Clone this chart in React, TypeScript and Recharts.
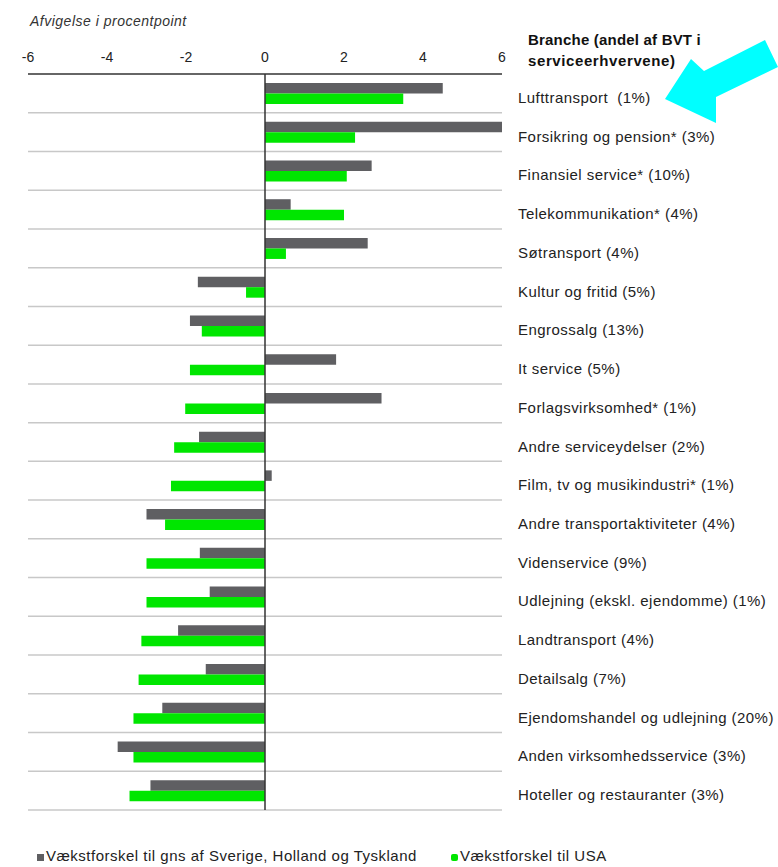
import React from 'react';
import {
  BarChart,
  Bar,
  XAxis,
  YAxis,
  CartesianGrid,
  ReferenceLine,
  Legend,
} from 'recharts';

const branches = [
  'Lufttransport  (1%)',
  'Forsikring og pension* (3%)',
  'Finansiel service* (10%)',
  'Telekommunikation* (4%)',
  'Søtransport (4%)',
  'Kultur og fritid (5%)',
  'Engrossalg (13%)',
  'It service (5%)',
  'Forlagsvirksomhed* (1%)',
  'Andre serviceydelser (2%)',
  'Film, tv og musikindustri* (1%)',
  'Andre transportaktiviteter (4%)',
  'Videnservice (9%)',
  'Udlejning (ekskl. ejendomme) (1%)',
  'Landtransport (4%)',
  'Detailsalg (7%)',
  'Ejendomshandel og udlejning (20%)',
  'Anden virksomhedsservice (3%)',
  'Hoteller og restauranter (3%)',
];

// gap to the average of Sweden, Netherlands and Germany
const vsEurope = [4.5, 6.0, 2.7, 0.65, 2.6, -1.7, -1.9, 1.8, 2.95, -1.67, 0.17, -3.0, -1.65, -1.4, -2.2, -1.5, -2.6, -3.73, -2.9];
// gap to USA
const vsUsa = [3.5, 2.28, 2.07, 2.0, 0.53, -0.48, -1.6, -1.9, -2.02, -2.3, -2.38, -2.53, -3.0, -3.0, -3.13, -3.2, -3.33, -3.33, -3.43];

const xTicks = [-6, -4, -2, 0, 2, 4, 6];

const europeLabel = 'Vækstforskel til gns af Sverige, Holland og Tyskland';
const usaLabel = 'Vækstforskel til USA';

const GRAY = '#5f5f62';
const GREEN = '#00e600';
const FONT = '"Liberation Sans", Arial, sans-serif';

const data = branches.map((name, i) => ({ name, europe: vsEurope[i], usa: vsUsa[i] }));

const BranchTick = (props: any) => {
  const { x, y, payload } = props;
  return (
    <text
      x={x + 8}
      y={y + 4}
      textAnchor="start"
      dominantBaseline="central"
      fontSize={15}
      letterSpacing={0.45}
      fill="#222"
      fontFamily={FONT}
      style={{ whiteSpace: 'pre' }}
    >
      {payload.value}
    </text>
  );
};

const LegendContent = () => (
  <div style={{ position: 'relative', height: 20, fontFamily: FONT, fontSize: 15, letterSpacing: 0.5, color: '#222' }}>
    <span style={{ position: 'absolute', left: 37, top: 3, width: 7, height: 7, background: GRAY }} />
    <span style={{ position: 'absolute', left: 46, top: -4, whiteSpace: 'nowrap' }}>{europeLabel}</span>
    <span style={{ position: 'absolute', left: 451, top: 3, width: 7, height: 7, background: GREEN, borderRadius: 2 }} />
    <span style={{ position: 'absolute', left: 460, top: -4, whiteSpace: 'nowrap' }}>{usaLabel}</span>
  </div>
);

export default function App() {
  return (
    <div style={{ position: 'absolute', left: 0, top: 0, width: 778, height: 867, background: '#fff' }}>
      <BarChart
        width={778}
        height={867}
        data={data}
        layout="vertical"
        margin={{ top: 44, right: 16, bottom: 37, left: 28 }}
        barSize={10.5}
        barGap={0}
      >
        <CartesianGrid
          vertical={false}
          stroke="#c8c8c8"
          strokeWidth={1.5}
          horizontalCoordinatesGenerator={({ offset }: any) =>
            branches.map((_, i) => offset.top + ((i + 1) * offset.height) / branches.length)
          }
        />
        <XAxis
          type="number"
          orientation="top"
          domain={[-6, 6]}
          ticks={xTicks}
          height={30}
          tickLine={false}
          tickSize={0}
          tickMargin={12}
          axisLine={{ stroke: '#333', strokeWidth: 1.5 }}
          tick={{ fontSize: 14, fill: '#222', fontFamily: FONT }}
        />
        <YAxis
          type="category"
          dataKey="name"
          orientation="right"
          width={260}
          axisLine={false}
          tickLine={false}
          interval={0}
          tick={<BranchTick />}
        />
        <ReferenceLine x={0} stroke="#333" strokeWidth={1.5} />
        <Bar dataKey="europe" name={europeLabel} fill={GRAY} isAnimationActive={false} />
        <Bar dataKey="usa" name={usaLabel} fill={GREEN} isAnimationActive={false} />
        <Legend content={<LegendContent />} wrapperStyle={{ left: 0, top: 851, width: 778 }} />
      </BarChart>
      <svg width={778} height={867} style={{ position: 'absolute', left: 0, top: 0, pointerEvents: 'none' }}>
        <text x={30} y={26} fontSize={14} letterSpacing={0.5} fontStyle="italic" fill="#333" fontFamily={FONT}>
          Afvigelse i procentpoint
        </text>
        <text x={528} y={45} fontSize={15} letterSpacing={0.2} fontWeight="bold" fill="#111" fontFamily={FONT}>
          Branche (andel af BVT i
        </text>
        <text x={528} y={66} fontSize={15} letterSpacing={0.6} fontWeight="bold" fill="#111" fontFamily={FONT}>
          serviceerhvervene)
        </text>
        <polygon points="665,99 691,59 704,71 765,40 778,67 716,97 716,123" fill="#00ffff" />
      </svg>
    </div>
  );
}
